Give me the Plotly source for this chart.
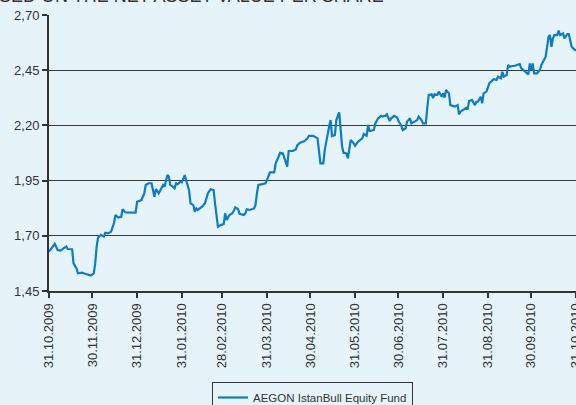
import plotly.graph_objects as go

dates = [
    "2009-10-31", "2009-11-02", "2009-11-04", "2009-11-06", "2009-11-08", "2009-11-10", "2009-11-12", "2009-11-13",
    "2009-11-16", "2009-11-17", "2009-11-19", "2009-11-20", "2009-11-23", "2009-11-24", "2009-11-27", "2009-11-29",
    "2009-12-01", "2009-12-02", "2009-12-03", "2009-12-04", "2009-12-06", "2009-12-08", "2009-12-09", "2009-12-11",
    "2009-12-13", "2009-12-15", "2009-12-16", "2009-12-18", "2009-12-20", "2009-12-21", "2009-12-23", "2009-12-26",
    "2009-12-30", "2009-12-31", "2010-01-03", "2010-01-05", "2010-01-06", "2010-01-08", "2010-01-10", "2010-01-12",
    "2010-01-13", "2010-01-15", "2010-01-16", "2010-01-18", "2010-01-19", "2010-01-21", "2010-01-22", "2010-01-23",
    "2010-01-24", "2010-01-26", "2010-01-27", "2010-01-28", "2010-01-30", "2010-01-31", "2010-02-02", "2010-02-03",
    "2010-02-05", "2010-02-06", "2010-02-08", "2010-02-09", "2010-02-10", "2010-02-11", "2010-02-14", "2010-02-16",
    "2010-02-18", "2010-02-20", "2010-02-22", "2010-02-23", "2010-02-24", "2010-02-25", "2010-02-27", "2010-03-01",
    "2010-03-02", "2010-03-03", "2010-03-05", "2010-03-07", "2010-03-08", "2010-03-09", "2010-03-11", "2010-03-12",
    "2010-03-15", "2010-03-16", "2010-03-17", "2010-03-19", "2010-03-22", "2010-03-23", "2010-03-24", "2010-03-25",
    "2010-03-27", "2010-03-30", "2010-03-31", "2010-04-01", "2010-04-02", "2010-04-05", "2010-04-06", "2010-04-08",
    "2010-04-09", "2010-04-11", "2010-04-14", "2010-04-15", "2010-04-18", "2010-04-20", "2010-04-21", "2010-04-23",
    "2010-04-26", "2010-04-28", "2010-04-29", "2010-05-02", "2010-05-04", "2010-05-05", "2010-05-07", "2010-05-09",
    "2010-05-10", "2010-05-12", "2010-05-13", "2010-05-14", "2010-05-15", "2010-05-17", "2010-05-18", "2010-05-20",
    "2010-05-21", "2010-05-22", "2010-05-23", "2010-05-25", "2010-05-26", "2010-05-27", "2010-05-28", "2010-05-30",
    "2010-05-31", "2010-06-02", "2010-06-05", "2010-06-06", "2010-06-08", "2010-06-09", "2010-06-10", "2010-06-11",
    "2010-06-13", "2010-06-14", "2010-06-16", "2010-06-18", "2010-06-19", "2010-06-21", "2010-06-22", "2010-06-24",
    "2010-06-25", "2010-06-27", "2010-06-29", "2010-06-30", "2010-07-02", "2010-07-03", "2010-07-05", "2010-07-06",
    "2010-07-08", "2010-07-09", "2010-07-11", "2010-07-13", "2010-07-14", "2010-07-16", "2010-07-17", "2010-07-19",
    "2010-07-20", "2010-07-21", "2010-07-23", "2010-07-24", "2010-07-25", "2010-07-27", "2010-07-28", "2010-07-30",
    "2010-07-31", "2010-08-01", "2010-08-02", "2010-08-04", "2010-08-05", "2010-08-06", "2010-08-08", "2010-08-10",
    "2010-08-11", "2010-08-12", "2010-08-14", "2010-08-16", "2010-08-17", "2010-08-18", "2010-08-20", "2010-08-22",
    "2010-08-23", "2010-08-24", "2010-08-26", "2010-08-27", "2010-08-28", "2010-08-30", "2010-09-01", "2010-09-03",
    "2010-09-04", "2010-09-06", "2010-09-07", "2010-09-09", "2010-09-10", "2010-09-11", "2010-09-13", "2010-09-14",
    "2010-09-15", "2010-09-17", "2010-09-19", "2010-09-20", "2010-09-22", "2010-09-23", "2010-09-25", "2010-09-27",
    "2010-09-28", "2010-09-29", "2010-09-30", "2010-10-01", "2010-10-02", "2010-10-04", "2010-10-06", "2010-10-07",
    "2010-10-09", "2010-10-10", "2010-10-11", "2010-10-12", "2010-10-13", "2010-10-14", "2010-10-15", "2010-10-16",
    "2010-10-18", "2010-10-19", "2010-10-20", "2010-10-22", "2010-10-23", "2010-10-25", "2010-10-26", "2010-10-28",
    "2010-10-29", "2010-10-31",
]

nav_per_share = [
    1.628, 1.643, 1.663, 1.636, 1.633, 1.643, 1.651, 1.640,
    1.639, 1.575, 1.553, 1.530, 1.533, 1.530, 1.526, 1.520,
    1.530, 1.575, 1.651, 1.693, 1.704, 1.696, 1.714, 1.711,
    1.719, 1.757, 1.794, 1.783, 1.786, 1.820, 1.806, 1.806,
    1.805, 1.854, 1.862, 1.892, 1.930, 1.938, 1.938, 1.877,
    1.911, 1.892, 1.907, 1.930, 1.922, 1.975, 1.968, 1.930,
    1.926, 1.915, 1.938, 1.933, 1.945, 1.942, 1.975, 1.953,
    1.907, 1.847, 1.839, 1.809, 1.824, 1.817, 1.832, 1.847,
    1.892, 1.911, 1.907, 1.847, 1.779, 1.741, 1.749, 1.753,
    1.802, 1.772, 1.794, 1.802, 1.813, 1.829, 1.820, 1.799,
    1.794, 1.802, 1.820, 1.817, 1.824, 1.839, 1.892, 1.930,
    1.933, 1.938, 1.953, 1.975, 1.987, 1.987, 2.028, 2.058,
    2.076, 2.073, 2.013, 2.084, 2.084, 2.092, 2.111, 2.122,
    2.129, 2.141, 2.153, 2.153, 2.144, 2.141, 2.028, 2.028,
    2.089, 2.171, 2.194, 2.224, 2.152, 2.156, 2.224, 2.259,
    2.171, 2.104, 2.076, 2.073, 2.051, 2.099, 2.134, 2.119,
    2.108, 2.126, 2.141, 2.161, 2.153, 2.202, 2.175, 2.176,
    2.179, 2.209, 2.232, 2.243, 2.240, 2.244, 2.250, 2.220,
    2.232, 2.243, 2.237, 2.221, 2.199, 2.179, 2.187, 2.217,
    2.232, 2.209, 2.217, 2.224, 2.240, 2.224, 2.209, 2.209,
    2.280, 2.338, 2.341, 2.323, 2.341, 2.338, 2.353, 2.330,
    2.345, 2.326, 2.360, 2.345, 2.292, 2.289, 2.285, 2.292,
    2.250, 2.262, 2.270, 2.280, 2.277, 2.311, 2.315, 2.292,
    2.307, 2.307, 2.330, 2.300, 2.345, 2.353, 2.391, 2.402,
    2.409, 2.406, 2.421, 2.413, 2.443, 2.421, 2.428, 2.474,
    2.466, 2.469, 2.470, 2.474, 2.478, 2.459, 2.448, 2.436,
    2.431, 2.481, 2.451, 2.481, 2.436, 2.436, 2.451, 2.474,
    2.504, 2.511, 2.556, 2.602, 2.609, 2.556, 2.594, 2.609,
    2.609, 2.629, 2.609, 2.617, 2.594, 2.614, 2.614, 2.556,
    2.549, 2.538,
]

series_name = "AEGON IstanBull Equity Fund"
title_text = "PERFORMANCE BASED ON THE NET ASSET VALUE PER SHARE"

x_tick_vals = [
    "2009-10-31", "2009-11-30", "2009-12-31", "2010-01-31", "2010-02-28", "2010-03-31", "2010-04-30",
    "2010-05-31", "2010-06-30", "2010-07-31", "2010-08-31", "2010-09-30", "2010-10-31",
]
x_tick_labels = [
    "31.10.2009", "30.11.2009", "31.12.2009", "31.01.2010", "28.02.2010", "31.03.2010", "30.04.2010",
    "31.05.2010", "30.06.2010", "31.07.2010", "31.08.2010", "30.09.2010", "31.10.2010",
]
y_tick_vals = [1.45, 1.70, 1.95, 2.20, 2.45, 2.70]
y_tick_labels = ["1,45", "1,70", "1,95", "2,20", "2,45", "2,70"]

BG = "#E6F4FA"
LINE = "#0A7DC5"
INK = "#333333"
FONT = "Liberation Sans, Arial, sans-serif"

fig = go.Figure()
fig.add_trace(go.Scatter(
    x=dates, y=nav_per_share, mode="lines", name=series_name,
    line=dict(color=LINE, width=2.2),
))

fig.update_layout(
    width=576, height=405,
    margin=dict(l=49, r=0, t=15, b=114, autoexpand=False),
    paper_bgcolor=BG, plot_bgcolor=BG,
    font=dict(family=FONT, size=13, color=INK),
    showlegend=True,
    legend=dict(
        orientation="h", x=0.5, xanchor="center", y=-0.3297, yanchor="top",
        bgcolor=BG, bordercolor=INK, borderwidth=1,
        font=dict(family=FONT, size=11.5, color=INK),
        itemwidth=30, tracegroupgap=0,
    ),
    annotations=[dict(
        text=title_text, xref="paper", yref="paper", x=0.6395, y=1.026,
        xanchor="right", yanchor="bottom", showarrow=False,
        font=dict(family=FONT, size=18, color=INK),
    )],
)

fig.update_xaxes(
    type="date", range=["2009-10-31", "2010-10-31"], automargin=False,
    tickmode="array", tickvals=x_tick_vals, ticktext=x_tick_labels,
    tickangle=-90, ticks="outside", ticklen=5, tickwidth=1.5, tickcolor=INK,
    showline=True, linecolor=INK, linewidth=2,
    showgrid=False, zeroline=False, ticklabeloverflow="allow",
    tickfont=dict(family=FONT, size=13, color=INK),
)
fig.update_yaxes(
    range=[1.45, 2.70], automargin=False, tickmode="array", tickvals=y_tick_vals, ticktext=y_tick_labels,
    ticks="outside", ticklen=5, tickwidth=1.5, tickcolor=INK,
    showline=True, linecolor=INK, linewidth=2,
    showgrid=True, gridcolor="#3a3a3a", gridwidth=1.4, zeroline=False,
    tickfont=dict(family=FONT, size=13, color=INK),
)

fig.write_html(
    "out.html",
    config={"displayModeBar": False},
    post_script="document.body.style.margin='0';document.body.style.background='%s';" % BG,
)
